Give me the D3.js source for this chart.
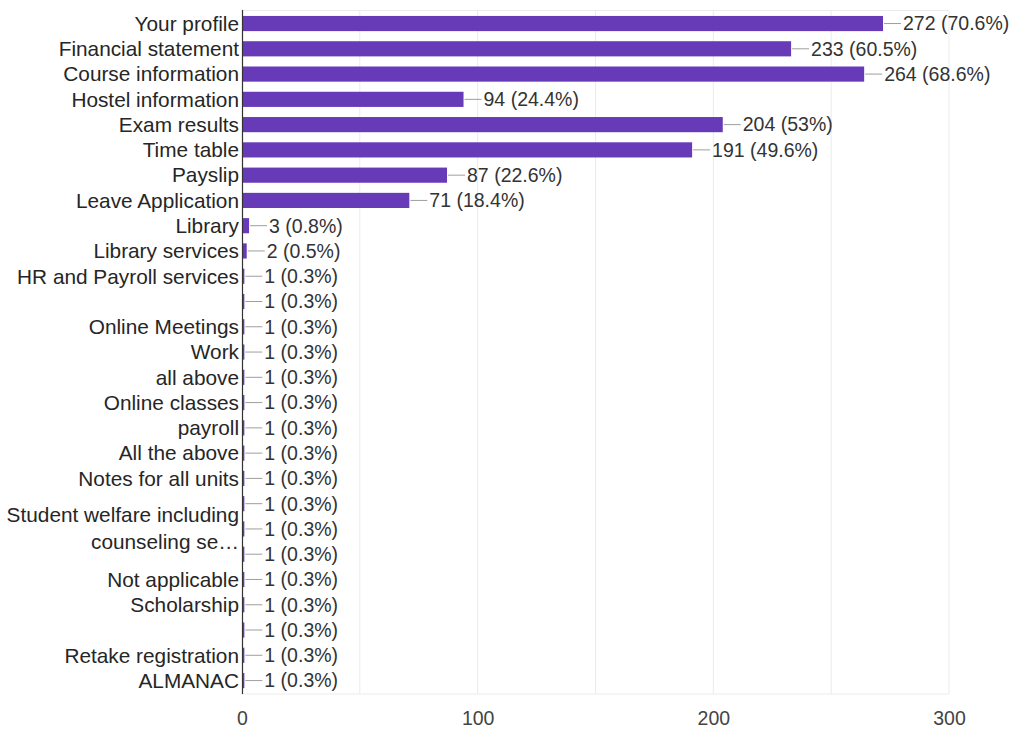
<!DOCTYPE html>
<html>
<head>
<meta charset="utf-8">
<script src="https://cdn.jsdelivr.net/npm/d3@7"></script>
<style>
  html, body { margin: 0; padding: 0; background: #fff; }
  svg { display: block; font-family: "Liberation Sans", Arial, sans-serif; }
</style>
</head>
<body>
<svg id="chart" width="1014" height="730"></svg>
<script>
// Response categories (empty strings are rows without a visible label)
const categories = [
  "Your profile", "Financial statement", "Course information", "Hostel information",
  "Exam results", "Time table", "Payslip", "Leave Application", "Library",
  "Library services", "HR and Payroll services", "", "Online Meetings", "Work",
  "all above", "Online classes", "payroll", "All the above", "Notes for all units",
  "", "Student welfare including counseling services", "", "Not applicable",
  "Scholarship", "", "Retake registration", "ALMANAC"
];
// Response counts
const counts = [
  272, 233, 264, 94, 204, 191, 87, 71, 3, 2, 1, 1, 1, 1, 1, 1, 1, 1, 1, 1, 1, 1, 1, 1, 1, 1, 1
];
// Share of respondents
const percents = [
  "70.6%", "60.5%", "68.6%", "24.4%", "53%", "49.6%", "22.6%", "18.4%", "0.8%",
  "0.5%", "0.3%", "0.3%", "0.3%", "0.3%", "0.3%", "0.3%", "0.3%", "0.3%", "0.3%",
  "0.3%", "0.3%", "0.3%", "0.3%", "0.3%", "0.3%", "0.3%", "0.3%"
];
const xTicks = [0, 100, 200, 300];
const xGrid = [50, 100, 150, 200, 250, 300];

const svg = d3.select("#chart");
const margin = { left: 242, right: 65, top: 10, bottom: 36 };
const W = 1014, H = 730;
const innerW = W - margin.left - margin.right;
const innerH = H - margin.top - margin.bottom;

const rows = categories.map((c, i) => ({ key: i, label: c, value: counts[i], pct: percents[i] }));

const x = d3.scaleLinear().domain([0, 300]).range([0, innerW]);
const y = d3.scaleBand().domain(rows.map(d => d.key)).range([0.9, innerH - 0.8])
  .paddingInner(0.4).paddingOuter(0.2);

const g = svg.append("g").attr("transform", `translate(${margin.left},${margin.top})`);

// grid
g.append("g").selectAll("line").data(xGrid).join("line")
  .attr("x1", d => x(d)).attr("x2", d => x(d))
  .attr("y1", 0).attr("y2", innerH)
  .attr("stroke", "#ebebeb").attr("stroke-width", 1);
g.append("line").attr("x1", 0).attr("x2", innerW).attr("y1", 0.5).attr("y2", 0.5)
  .attr("stroke", "#ebebeb");
g.append("line").attr("x1", 0).attr("x2", innerW).attr("y1", innerH).attr("y2", innerH)
  .attr("stroke", "#ebebeb");

// bars
g.append("g").selectAll("rect").data(rows).join("rect")
  .attr("x", 0)
  .attr("y", d => y(d.key))
  .attr("width", d => x(d.value))
  .attr("height", y.bandwidth())
  .attr("fill", "#673ab7");

// connectors and value labels
const lab = g.append("g").selectAll("g").data(rows).join("g")
  .attr("transform", d => `translate(${x(d.value)},${y(d.key) + y.bandwidth() / 2})`);
lab.append("line").attr("x1", 1).attr("x2", 18).attr("y1", 0).attr("y2", 0)
  .attr("stroke", "#9e9e9e").attr("stroke-width", 1);
lab.append("text").attr("x", 20).attr("dy", "0.35em")
  .attr("font-size", 19.5).attr("fill", "#333")
  .text(d => `${d.value} (${d.pct})`);

// category labels (long labels wrap to two lines with ellipsis)
const catG = g.append("g").selectAll("text").data(rows).join("text")
  .attr("x", -3)
  .attr("y", d => y(d.key) + y.bandwidth() / 2)
  .attr("text-anchor", "end")
  .attr("font-size", 20.8).attr("fill", "#262626");
catG.each(function(d) {
  const t = d3.select(this);
  if (d.label.length > 26) {
    t.append("tspan").attr("x", -3).attr("dy", "-0.35em").text("Student welfare including");
    t.append("tspan").attr("x", -3).attr("dy", "1.3em").text("counseling se\u2026");
  } else {
    t.attr("dy", "0.35em").text(d.label);
  }
});

// y axis line
g.append("line").attr("x1", 0.5).attr("x2", 0.5).attr("y1", 0).attr("y2", innerH)
  .attr("stroke", "#333").attr("stroke-width", 1.2);

// x axis
const xAxis = g.append("g").attr("transform", `translate(0,${innerH})`)
  .call(d3.axisBottom(x).tickValues(xTicks).tickSize(0).tickPadding(17));
xAxis.select(".domain").remove();
xAxis.selectAll("text").attr("font-size", 19.5).attr("fill", "#444")
  .attr("font-family", "'Liberation Sans', Arial, sans-serif");
</script>
</body>
</html>
